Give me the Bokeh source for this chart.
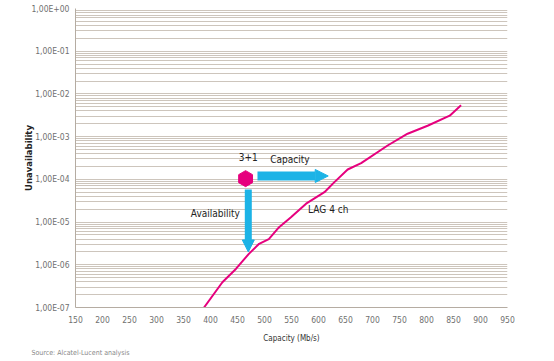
import math
from bokeh.plotting import figure
from bokeh.models import (Range1d, FixedTicker, Arrow, NormalHead, Title)
from bokeh.core.properties import value
from bokeh.embed import file_html
from bokeh.resources import INLINE

# ---- data ----
capacity = [388, 422, 447, 471, 490, 508, 527, 549, 577, 611, 629, 654, 679, 728, 765, 802, 843, 864]
unavailability = [1.0e-7, 3.9e-7, 8.0e-7, 1.8e-6, 3.1e-6, 4.0e-6, 7.6e-6, 1.3e-5, 2.7e-5, 5.0e-5,
                  8.5e-5, 1.7e-4, 2.4e-4, 6.2e-4, 1.17e-3, 1.8e-3, 3.1e-3, 5.4e-3]

x_ticks = [150, 200, 250, 300, 350, 400, 450, 500, 550, 600, 650, 700, 750, 800, 850, 900, 950]
y_ticks = [1e-7, 1e-6, 1e-5, 1e-4, 1e-3, 1e-2, 1e-1, 1e0]
y_tick_labels = ["1,00E-07", "1,00E-06", "1,00E-05", "1,00E-04", "1,00E-03", "1,00E-02", "1,00E-01", "1,00E+00"]

# reference point (3+1) and arrows
ref_point_x = [465]
ref_point_y = [1.04e-4]
cap_arrow = dict(x0=487, x1=618, y=1.2e-4)
avail_arrow = dict(x=470, y0=5.8e-5, y1=2.0e-6)

annot_text = ["3+1", "Capacity", "Availability", "LAG 4 ch"]
annot_x = [470, 547, 409, 618]
annot_y = [3.3e-4, 2.85e-4, 1.58e-5, 1.97e-5]

PINK = "#e6007e"
CYAN = "#1cb3e6"
GRID = "#cdc5bc"
COND = "DejaVu Sans Condensed"

H = 360
p = figure(width=540, height=H, y_axis_type="log",
           x_range=Range1d(150, 950), y_range=Range1d(1e-7, 1),
           output_backend="svg", toolbar_location=None,
           min_border_left=75, min_border_right=33, min_border_top=8, min_border_bottom=53)
p.outline_line_color = None
p.background_fill_color = "white"
p.border_fill_color = "white"

minor = [m * 10.0 ** e for e in range(-7, 0) for m in range(2, 10)]
p.yaxis.ticker = FixedTicker(ticks=y_ticks, minor_ticks=minor)
p.yaxis.major_label_overrides = {t: l for t, l in zip(y_ticks, y_tick_labels)}
p.xaxis.ticker = FixedTicker(ticks=x_ticks)

for ax in (p.xaxis[0], p.yaxis[0]):
    ax.axis_line_color = "#b5aca2"
    ax.axis_line_width = 1
    ax.major_tick_line_color = None
    ax.minor_tick_line_color = None
    ax.major_tick_out = 0
    ax.minor_tick_out = 0
    ax.major_label_text_font = COND
    ax.major_label_text_font_size = "8.5px"
    ax.major_label_text_color = "#707070"
p.xaxis.major_label_standoff = 8
p.yaxis.major_label_standoff = 6

p.xaxis.axis_label = "Capacity (Mb/s)"
p.xaxis.axis_label_text_font = COND
p.xaxis.axis_label_text_font_style = "normal"
p.xaxis.axis_label_text_font_size = "8px"
p.xaxis.axis_label_text_color = "#333333"
p.xaxis.axis_label_standoff = 8

p.yaxis.axis_label = "Unavailability"
p.yaxis.axis_label_text_font = "DejaVu Sans"
p.yaxis.axis_label_text_font_style = "bold"
p.yaxis.axis_label_text_font_size = "8.5px"
p.yaxis.axis_label_text_color = "#222222"
p.yaxis.axis_label_standoff = -5

p.xgrid.grid_line_color = None
p.ygrid.grid_line_color = GRID
p.ygrid.minor_grid_line_color = GRID
p.ygrid.grid_line_width = 1
p.ygrid.minor_grid_line_width = 1

# curve
p.line(capacity, unavailability, line_color=PINK, line_width=2)

# arrows
p.add_layout(Arrow(end=NormalHead(size=13, fill_color=CYAN, line_color=CYAN),
                   x_start=cap_arrow["x0"], y_start=cap_arrow["y"],
                   x_end=cap_arrow["x1"], y_end=cap_arrow["y"],
                   line_color=CYAN, line_width=9))
p.add_layout(Arrow(end=NormalHead(size=12, fill_color=CYAN, line_color=CYAN),
                   x_start=avail_arrow["x"], y_start=avail_arrow["y0"],
                   x_end=avail_arrow["x"], y_end=avail_arrow["y1"],
                   line_color=CYAN, line_width=7))

# 3+1 point
p.scatter(ref_point_x, ref_point_y, marker="hex", angle=math.pi / 2, size=16,
          fill_color=PINK, line_color=PINK)

p.text(annot_x, annot_y, text=annot_text, text_font=value(COND), text_font_size="10px",
       text_color="#222222", text_align="center", text_baseline="middle")

# source note
p.add_layout(Title(text="Source: Alcatel-Lucent analysis", align="left", offset=-44, standoff=3,
                   text_font=COND, text_font_style="normal", text_font_size="7px",
                   text_color="#888888"), "below")

open("out.html", "w").write(file_html(p, INLINE))
